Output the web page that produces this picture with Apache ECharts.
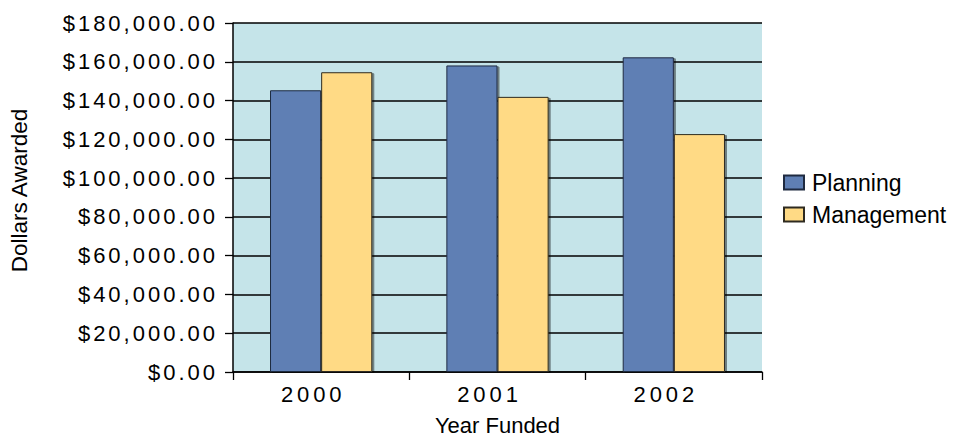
<!DOCTYPE html>
<html>
<head>
<meta charset="utf-8">
<script src="https://cdn.jsdelivr.net/npm/echarts@6/dist/echarts.min.js"></script>
<style>
  html, body { margin: 0; padding: 0; background: #ffffff; }
  #chart { width: 959px; height: 437px; }
</style>
</head>
<body>
<div id="chart"></div>
<script>
// Grant totals per funding year
const years = ['2000', '2001', '2002'];
const planning = [145300, 158100, 162300];
const management = [154600, 141900, 122700];

// Dollar axis range
const yMin = 0;
const yMax = 180000;
const yStep = 20000;

const FONT = '"Liberation Sans", Arial, sans-serif';

function dollars(v) {
  return '$' + v.toLocaleString('en-US', { minimumFractionDigits: 2, maximumFractionDigits: 2 });
}

const chart = echarts.init(document.getElementById('chart'), null, { renderer: 'svg' });

chart.setOption({
  animation: false,
  textStyle: { fontFamily: FONT, color: '#000' },
  grid: {
    left: 233, top: 23, width: 529, height: 349,
    outerBoundsMode: 'none',
    containLabel: false,
    show: true, backgroundColor: '#c5e4e9', borderWidth: 0
  },
  legend: {
    orient: 'vertical',
    left: 783, top: 171,
    padding: 0,
    icon: 'rect',
    itemWidth: 20, itemHeight: 14, itemGap: 9,
    textStyle: { fontFamily: FONT, fontSize: 23, color: '#000', padding: [0, 0, 0, 3] },
    data: ['Planning', 'Management']
  },
  xAxis: {
    type: 'category',
    data: years,
    boundaryGap: true,
    name: 'Year Funded',
    nameLocation: 'middle',
    nameGap: 42,
    nameTextStyle: { fontFamily: FONT, fontSize: 22, color: '#000' },
    axisLine: { show: true, lineStyle: { color: '#000', width: 1.5 } },
    axisTick: { show: true, length: 8, lineStyle: { color: '#000', width: 1.3 } },
    axisLabel: { fontFamily: FONT, fontSize: 22, color: '#000', margin: 11, padding: [0, 16, 0, 0] },
    splitLine: { show: false }
  },
  yAxis: {
    type: 'value',
    min: yMin, max: yMax, interval: yStep,
    name: 'Dollars Awarded',
    nameLocation: 'middle',
    nameGap: 202,
    nameRotate: 90,
    nameTextStyle: { fontFamily: FONT, fontSize: 22.5, color: '#000', padding: [0, 0, 0, 14] },
    axisLine: { show: true, lineStyle: { color: '#000', width: 1.5 } },
    axisTick: { show: true, length: 8, lineStyle: { color: '#000', width: 1.3 } },
    axisLabel: { fontFamily: FONT, fontSize: 22, color: '#000', margin: 15, formatter: dollars },
    splitLine: { show: true, lineStyle: { color: '#000', width: 1.5 } }
  },
  series: [
    {
      name: 'Planning',
      type: 'bar',
      data: planning,
      barGap: '0%',
      barCategoryGap: '42%',
      itemStyle: {
        color: '#5f7fb4', borderColor: '#1f2a40', borderWidth: 1,
        shadowColor: 'rgba(0,0,0,0.45)', shadowOffsetX: 2, shadowOffsetY: 1, shadowBlur: 0
      }
    },
    {
      name: 'Management',
      type: 'bar',
      data: management,
      barGap: '0%',
      barCategoryGap: '42%',
      itemStyle: {
        color: '#ffda85', borderColor: '#2e2a20', borderWidth: 1,
        shadowColor: 'rgba(0,0,0,0.45)', shadowOffsetX: 2, shadowOffsetY: 1, shadowBlur: 0
      }
    }
  ]
});

// Wider tracking on the axis tick labels
document.querySelectorAll('#chart text').forEach(function (t) {
  const s = t.textContent;
  if (s.charAt(0) === '$') t.setAttribute('letter-spacing', '3');
  else if (years.indexOf(s) >= 0) t.setAttribute('letter-spacing', '3.9');
});
</script>
</body>
</html>
